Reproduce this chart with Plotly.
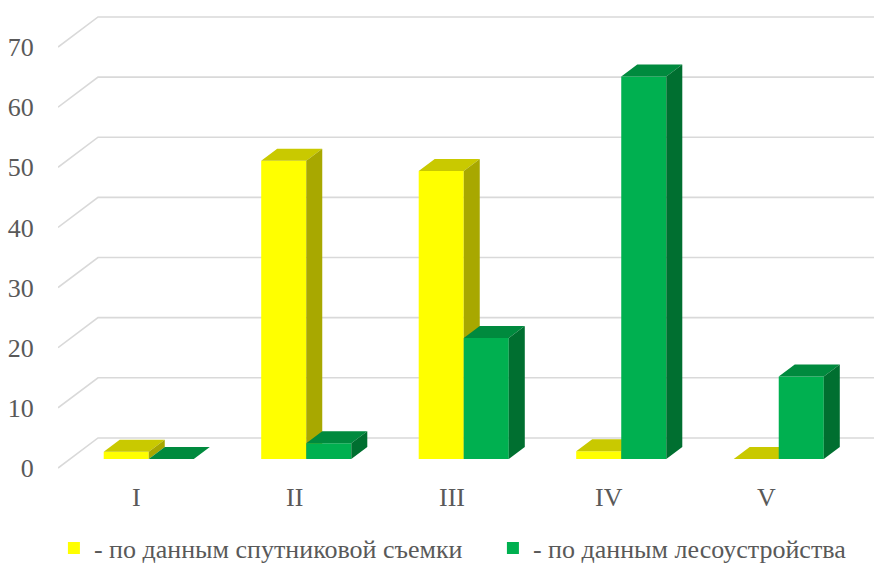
import plotly.graph_objects as go

# Distribution by class (%), two data sources
categories = ["I", "II", "III", "IV", "V"]
satellite = [1.2, 49.6, 47.9, 1.3, 0.0]
inventory = [0.0, 2.6, 20.1, 63.6, 13.7]
series_names = ["- по данным спутниковой съемки", "- по данным лесоустройства"]
y_ticks = [0, 10, 20, 30, 40, 50, 60, 70]

# Oblique "3-D" projection parameters (in data units)
DEPTH_X = 0.254      # horizontal shift of the back wall, in category units
DEPTH_Y = 5.0        # vertical shift of the back wall, in value units
BAR_FRONT = 0.3      # bars occupy this slice of the floor depth
BAR_BACK = 0.7
BAR_W = 0.286        # width of one bar, in category units
X_MAX = 5.181

FONT = "Liberation Serif"
GREY = "#595959"
GRID = "#d9d9d9"

faces = {
    "yellow": dict(front="#FFFF00", top="#C9C900", side="#A8A800"),
    "green": dict(front="#00B050", top="#008A3E", side="#006F30"),
}


def bar_polys(values, side):
    """Front, top and right-side polygons of each bar, built from the values."""
    fx, fy = BAR_FRONT * DEPTH_X, BAR_FRONT * DEPTH_Y
    dx = (BAR_BACK - BAR_FRONT) * DEPTH_X
    dy = (BAR_BACK - BAR_FRONT) * DEPTH_Y
    front, top, right = ([], []), ([], []), ([], [])
    for i, v in enumerate(values):
        c = i + 0.5 + fx
        x0, x1 = (c - BAR_W, c) if side == "left" else (c, c + BAR_W)
        b, t = fy, fy + v
        for poly, xs, ys in (
            (front, [x0, x1, x1, x0, x0], [b, b, t, t, b]),
            (top, [x0, x1, x1 + dx, x0 + dx, x0], [t, t, t + dy, t + dy, t]),
            (right, [x1, x1 + dx, x1 + dx, x1, x1], [b, b + dy, t + dy, t, b]),
        ):
            poly[0].extend(xs + [None])
            poly[1].extend(ys + [None])
    return front, top, right


fig = go.Figure()

# Floor/back-wall gridlines
for v in y_ticks:
    fig.add_trace(go.Scatter(
        x=[0, DEPTH_X, X_MAX], y=[v, v + DEPTH_Y, v + DEPTH_Y],
        mode="lines", line=dict(color=GRID, width=1.6),
        hoverinfo="skip", showlegend=False))

# Bars: yellow first, green drawn over it
for values, side, key in ((satellite, "left", "yellow"), (inventory, "right", "green")):
    front, top, right = bar_polys(values, side)
    for poly, col in ((front, faces[key]["front"]), (top, faces[key]["top"]),
                      (right, faces[key]["side"])):
        fig.add_trace(go.Scatter(
            x=poly[0], y=poly[1], mode="lines", fill="toself",
            fillcolor=col, line=dict(width=0, color=col),
            hoverinfo="skip", showlegend=False))

# Legend entries
for name, key in zip(series_names, ("yellow", "green")):
    fig.add_trace(go.Scatter(
        x=[None], y=[None], mode="markers", name=name,
        marker=dict(symbol="square", size=12, color=faces[key]["front"])))

# Category labels along the front edge of the floor
for i, cat in enumerate(categories):
    fig.add_annotation(x=i + 0.5, y=-0.0427, xref="x", yref="paper", text=cat,
                       showarrow=False, yanchor="middle",
                       font=dict(family=FONT, size=26, color=GREY))

fig.update_layout(
    width=874, height=566,
    margin=dict(l=58, r=0, t=10, b=88, autoexpand=False),
    paper_bgcolor="white", plot_bgcolor="white",
    font=dict(family=FONT, color=GREY),
    xaxis=dict(range=[0, X_MAX], showgrid=False, zeroline=False,
               showticklabels=False, fixedrange=True),
    yaxis=dict(range=[-10 / 6.014, 458 / 6.014], showgrid=False, zeroline=False,
               tickvals=y_ticks, ticks="outside", ticklen=18,
               tickcolor="rgba(0,0,0,0)", tickfont=dict(family=FONT, size=26, color=GREY),
               fixedrange=True),
    legend=dict(orientation="h", x=-0.005, xanchor="left", y=-0.1496, yanchor="middle",
                font=dict(family=FONT, size=26, color=GREY), itemwidth=30,
                entrywidth=394, entrywidthmode="pixels",
                bgcolor="rgba(0,0,0,0)"),
)

fig.write_html("out.html")
